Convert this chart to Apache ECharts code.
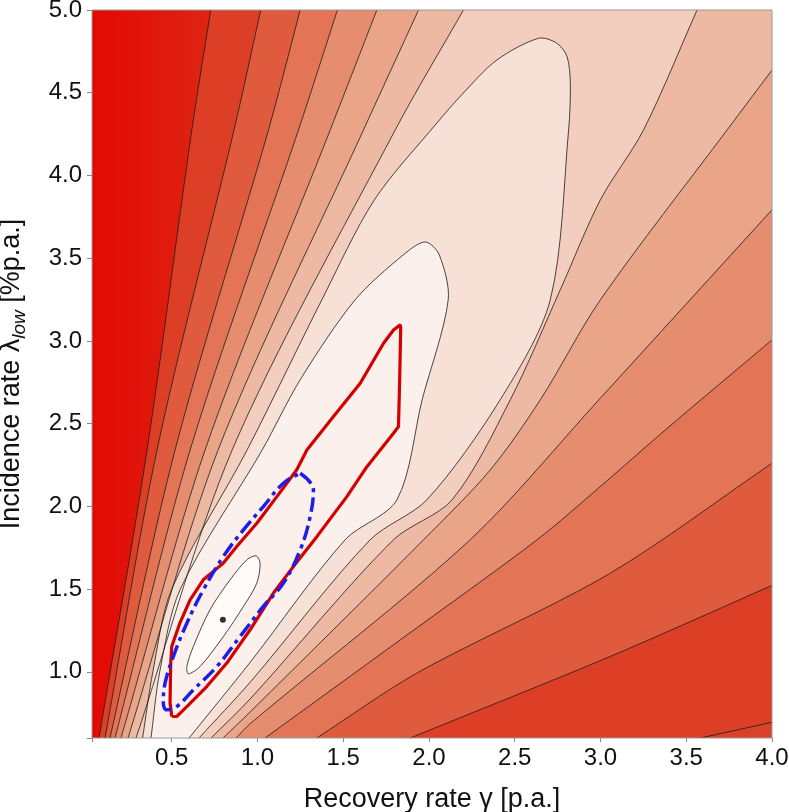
<!DOCTYPE html>
<html>
<head>
<meta charset="utf-8">
<script src="https://cdn.jsdelivr.net/npm/echarts@6.0.0/dist/echarts.min.js"></script>
<style>
  html, body { margin: 0; padding: 0; background: #fff; }
  #chart { width: 789px; height: 812px; }
</style>
</head>
<body>
<div id="chart"></div>
<script>
// axis extents
const xRange = [0.035, 4.0]
const yRange = [0.6, 5.0]

// contour lines, innermost level first
const c0 = [[0.992,1.701],[1.015,1.657],[0.996,1.536],[0.918,1.395],[0.801,1.213],[0.665,1.032],[0.597,0.988],[0.588,1.032],[0.626,1.153],[0.723,1.375],[0.84,1.556],[0.938,1.677],[0.992,1.701]]
const c1 = [[0.379,0.6],[0.43,1.0],[0.55,1.5],[1.027,2.34],[1.249,2.765],[1.569,3.248],[1.85,3.52],[1.978,3.598],[2.06,3.52],[2.112,3.248],[1.96,2.644],[1.813,2.04],[1.511,1.798],[0.957,1.057],[0.601,0.6]]
const c2 = [[0.33,0.6],[0.39,1.0],[0.50,1.5],[0.939,2.34],[1.375,3.248],[1.68,3.85],[2.046,4.317],[2.2,4.498],[2.396,4.698],[2.639,4.829],[2.746,4.799],[2.805,4.718],[2.824,4.559],[2.814,4.275],[2.707,3.248],[2.415,2.644],[1.988,2.04],[1.657,1.798],[0.957,0.937],[0.659,0.6]]
const c3L = [[0.292,0.6],[0.852,2.34],[1.803,4.275],[2.201,5.0]]
const c3R = [[3.563,5.0],[3.251,4.275],[2.999,3.852],[2.765,3.308],[2.474,2.644],[2.135,2.04],[1.793,1.798],[0.957,0.836],[0.729,0.6]]
const c4L = [[0.245,0.6],[0.77,2.34],[1.618,4.275],[1.939,5.0]]
const c4R = [[4.0,4.637],[3.738,4.275],[2.999,3.248],[2.649,2.644],[2.357,2.22],[1.968,1.798],[0.957,0.757],[0.799,0.6]]
const c5L = [[0.204,0.6],[0.694,2.34],[1.424,4.275],[1.696,5.0]]
const c5R = [[4.0,3.792],[2.999,2.654],[2.24,1.798],[0.957,0.686],[0.875,0.6]]
const c6L = [[0.169,0.6],[0.607,2.34],[1.239,4.275],[1.466,5.0]]
const c6R = [[4.0,3.006],[3.378,2.462],[2.999,2.12],[2.63,1.798],[1.832,1.193],[1.044,0.6]]
const c7L = [[0.140,0.6],[0.519,2.34],[1.064,4.275],[1.249,5.0]]
const c7R = [[4.0,2.261],[3.057,1.596],[1.929,0.992],[1.346,0.6]]
const c8L = [[0.111,0.6],[0.414,2.34],[0.863,4.275],[1.019,5.0]]
const c8R = [[4.0,1.522],[3.057,1.093],[1.89,0.6]]
const c9L = [[0.076,0.6],[0.356,2.34],[0.617,4.275],[0.7275,5.0]]
const c9R = [[4.0,0.695],[3.582,0.6]]

// fill colour inside each level, level 0 first
const bandColors = ['#fefbf9','#fbf0eb','#f7e0d6','#f3cdbd','#eeb9a2','#eaa488','#e68d70','#e37456','#e05a3d','#dd3f26']

// red region, blue dash-dot region, best estimate
const redRegion = [[0.5,0.73],[0.49,0.813],[0.494,1.053],[0.5,1.153],[0.548,1.296],[0.607,1.435],[0.684,1.556],[0.801,1.657],[0.879,1.757],[0.996,1.898],[1.113,2.059],[1.229,2.221],[1.288,2.341],[1.443,2.543],[1.599,2.744],[1.735,2.986],[1.793,3.066],[1.832,3.097],[1.835,3.079],[1.829,2.764],[1.822,2.482],[1.793,2.442],[1.638,2.24],[1.521,2.059],[1.346,1.817],[1.209,1.636],[1.093,1.476],[0.957,1.254],[0.821,1.053],[0.704,0.911],[0.588,0.79],[0.529,0.73],[0.5,0.73]]
const blueRegion = [[1.249,2.2],[1.326,2.1],[1.307,1.938],[1.249,1.737],[1.151,1.536],[1.034,1.395],[0.898,1.213],[0.763,1.032],[0.626,0.891],[0.529,0.79],[0.471,0.77],[0.451,0.811],[0.461,0.931],[0.509,1.092],[0.588,1.294],[0.684,1.495],[0.801,1.697],[0.918,1.858],[1.034,1.999],[1.151,2.14],[1.249,2.2]]
const bestFit = [[0.798,1.314]]

// far-away helper values so filled areas run past the frame (clipped)
const TOPF = 6.5, BOTF = -0.8, RIGHTF = 5.2
const SMOOTH = 0.3

// carry a line a little past the frame along its end direction,
// so the smoothed fill edge and the drawn line coincide inside the frame
const extend = (c, k = 0.35) => {
  const ext = (a, b) => {
    const dx = a[0] - b[0], dy = a[1] - b[1]
    const len = Math.hypot(dx, dy) || 1
    return [a[0] + dx / len * k, a[1] + dy / len * k]
  }
  return [ext(c[0], c[1]), ...c, ext(c[c.length - 1], c[c.length - 2])]
}

const uShape = c => {
  const e = extend(c)
  return [[e[0][0], BOTF], ...e, [e[e.length - 1][0], BOTF]]
}

const openBand = (left, right) => {
  const L = extend(left)
  const R = extend(right)
  const pts = [[L[0][0], BOTF], ...L, [L[L.length - 1][0], TOPF]]
  if (right[0][1] >= 5) {
    pts.push([R[0][0], TOPF])
  } else {
    pts.push([RIGHTF, TOPF], [RIGHTF, R[0][1]])
  }
  pts.push(...R, [R[R.length - 1][0], BOTF])
  return pts
}

const basePoly = [[-1, BOTF], [RIGHTF, BOTF], [RIGHTF, TOPF], [-1, TOPF]]

// outermost first
const bandPolys = [
  openBand(c9L, c9R), openBand(c8L, c8R), openBand(c7L, c7R), openBand(c6L, c6R),
  openBand(c5L, c5R), openBand(c4L, c4R), openBand(c3L, c3R),
  uShape(c2), uShape(c1), c0.slice(0, -1)
]
const bandFills = bandColors.slice().reverse()

const openLines = [c1, c2, c3L, c3R, c4L, c4R, c5L, c5R, c6L, c6R, c7L, c7R, c8L, c8R, c9L, c9R]
const contourLines = [{ closed: true, pts: c0.slice(0, -1) }].concat(openLines.map(c => ({ closed: false, pts: extend(c) })))

const chart = echarts.init(document.getElementById('chart'))

const tickFormatter = v => {
  const k = v * 2
  return Math.abs(k - Math.round(k)) < 1e-6 ? v.toFixed(1) : ''
}

const option = {
  animation: false,
  textStyle: { fontFamily: 'Liberation Sans, Arial, sans-serif' },
  grid: {
    left: 92, right: 17, top: 10, bottom: 74,
    containLabel: false,
    outerBoundsMode: 'none',
    show: true, z: 10,
    borderColor: '#9a9a9a', borderWidth: 1,
    backgroundColor: 'transparent'
  },
  xAxis: {
    type: 'value',
    min: xRange[0], max: xRange[1],
    minInterval: 0.5, maxInterval: 0.5,
    splitLine: { show: false },
    axisLine: { show: false },
    axisTick: { show: true, length: 4, lineStyle: { color: '#888' } },
    axisLabel: { fontSize: 24, color: '#111', margin: 8, formatter: tickFormatter },
    name: 'Recovery rate γ [p.a.]',
    nameLocation: 'middle',
    nameGap: 48,
    nameTextStyle: { fontSize: 27, color: '#111' }
  },
  yAxis: {
    type: 'value',
    min: yRange[0], max: yRange[1],
    minInterval: 0.5, maxInterval: 0.5,
    splitLine: { show: false },
    axisLine: { show: false },
    axisTick: { show: true, length: 5, lineStyle: { color: '#888' } },
    axisLabel: { fontSize: 24, color: '#111', margin: 10, formatter: tickFormatter },
    name: '{a|Incidence rate λ}{b|low}{a| [%p.a.]}',
    nameLocation: 'middle',
    nameRotate: 90,
    nameGap: 63,
    nameTextStyle: {
      color: '#111',
      rich: {
        a: { fontSize: 27, color: '#111' },
        b: { fontSize: 19, color: '#111', fontStyle: 'italic', verticalAlign: 'bottom', padding: [16, 0, 0, 0] }
      }
    }
  },
  series: [
    {
      type: 'custom',
      clip: true,
      silent: true,
      z: 1,
      data: [[1, 1]],
      renderItem: (params, api) => ({
        type: 'polygon',
        shape: { points: basePoly.map(p => api.coord(p)) },
        style: {
          fill: new echarts.graphic.LinearGradient(0, 0, 1, 0, [
            { offset: 0.17, color: '#e20a04' },
            { offset: 0.3, color: '#dd2a16' },
            { offset: 0.85, color: '#d8452d' }
          ])
        }
      })
    },
    {
      type: 'custom',
      clip: true,
      silent: true,
      z: 2,
      data: bandPolys.map(() => [1, 1]),
      renderItem: (params, api) => ({
        type: 'polygon',
        shape: { points: bandPolys[params.dataIndex].map(p => api.coord(p)), smooth: SMOOTH },
        style: { fill: bandFills[params.dataIndex] }
      })
    },
    {
      type: 'custom',
      clip: true,
      silent: true,
      z: 3,
      data: contourLines.map(() => [1, 1]),
      renderItem: (params, api) => {
        const c = contourLines[params.dataIndex]
        return {
          type: c.closed ? 'polygon' : 'polyline',
          shape: { points: c.pts.map(p => api.coord(p)), smooth: SMOOTH },
          style: { fill: null, stroke: '#1c1c1c', lineWidth: 0.8 }
        }
      }
    },
    {
      type: 'line',
      data: redRegion,
      showSymbol: false,
      z: 5,
      lineStyle: { color: '#d40000', width: 3.2 }
    },
    {
      type: 'line',
      data: blueRegion,
      showSymbol: false,
      smooth: 0.4,
      z: 6,
      lineStyle: { color: '#1e1ee6', width: 3.5, type: [15, 5, 4, 5] }
    },
    {
      type: 'scatter',
      data: bestFit,
      symbolSize: 6,
      z: 7,
      itemStyle: { color: '#000' }
    }
  ]
}

chart.setOption(option)
</script>
</body>
</html>
